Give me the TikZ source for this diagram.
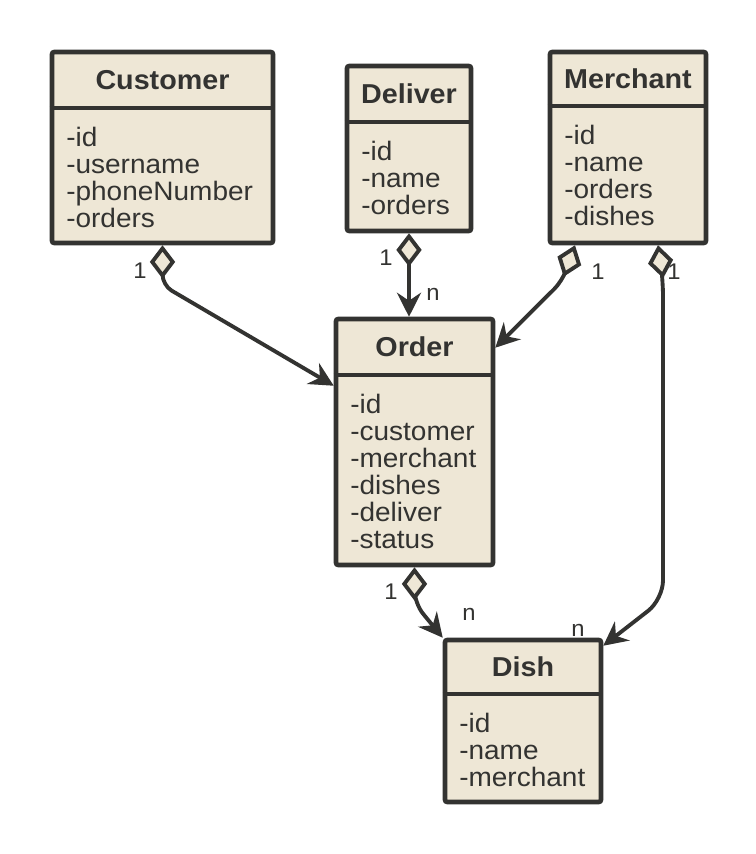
\documentclass[tikz,border=0pt]{standalone}
\usepackage{fontspec}
\setmainfont{Liberation Sans}[FakeStretch=1.05]
\usetikzlibrary{arrows.meta,calc}
\definecolor{ink}{HTML}{333331}
\definecolor{paper}{HTML}{EEE7D6}
\def\pxl{0.75pt}

\begin{document}
\begin{tikzpicture}[x=0.75pt,y=-0.75pt,text=ink,line join=round,
    classbox/.style={draw=ink,fill=paper,line width=3.4pt,rounded corners=1.5pt,inner sep=0pt},
    classname/.style={font=\fontsize{20.5}{22}\selectfont\bfseries},
    attrs/.style={font=\fontsize{20}{20.25}\selectfont,align=left,anchor=north west,inner sep=0pt},
    divider/.style={draw=ink,line width=3.4pt},
    assoc/.style={draw=ink,line width=2.9pt,
      {Diamond[length=25pt,width=19pt,fill=paper]}-{Stealth[length=18pt,width=18pt,inset=6pt]}},
    card/.style={font=\fontsize{17}{18}\selectfont,inner sep=0pt}]
  \fill[white] (0,0) rectangle (756,854);
  \useasboundingbox (0,0) rectangle (756,854);

  % classes
  \node[classbox,minimum width=221*\pxl,minimum height=191*\pxl] (customer) at (162.5,147.5) {};
  \draw[divider] (customer.west |- 0,108) -- (customer.east |- 0,108);
  \node[classname] (customer-name) at (162.5,80) {Customer};
  \node[attrs] (customer-attrs) at (66,127) {-id\\-username\\-phoneNumber\\-orders};

  \node[classbox,minimum width=124*\pxl,minimum height=165*\pxl] (deliver) at (409,148.5) {};
  \draw[divider] (deliver.west |- 0,122) -- (deliver.east |- 0,122);
  \node[classname] (deliver-name) at (409,94) {Deliver};
  \node[attrs] (deliver-attrs) at (361,141) {-id\\-name\\-orders};

  \node[classbox,minimum width=156*\pxl,minimum height=191*\pxl] (merchant) at (628,147.5) {};
  \draw[divider] (merchant.west |- 0,106) -- (merchant.east |- 0,106);
  \node[classname] (merchant-name) at (628,79) {Merchant};
  \node[attrs] (merchant-attrs) at (564,125) {-id\\-name\\-orders\\-dishes};

  \node[classbox,minimum width=157*\pxl,minimum height=246*\pxl] (order) at (414.5,442) {};
  \draw[divider] (order.west |- 0,375) -- (order.east |- 0,375);
  \node[classname] (order-name) at (414.5,347) {Order};
  \node[attrs] (order-attrs) at (350,394) {-id\\-customer\\-merchant\\-dishes\\-deliver\\-status};

  \node[classbox,minimum width=156*\pxl,minimum height=162*\pxl] (dish) at (523,721) {};
  \draw[divider] (dish.west |- 0,694) -- (dish.east |- 0,694);
  \node[classname] (dish-name) at (523,667) {Dish};
  \node[attrs] (dish-attrs) at (459,713) {-id\\-name\\-merchant};

  % aggregations
  \draw[assoc,rounded corners=8pt] (customer.south) -- ++(0,40) -- ($(order.north west)+(0,69)$);
  \draw[assoc] (deliver.south) -- (deliver.south |- order.north);
  \draw[assoc,rounded corners=8pt] ($(merchant.south)+(-53,0)$) -- ++(-13,36) -- ($(order.north east)+(0,31)$);
  \draw[assoc,rounded corners=14pt] ($(merchant.south)+(30,0)$) -- ++(5,32) -- ++(0,322) -- ($(dish.north east)+(0,8)$);
  \draw[assoc,rounded corners=10pt] (order.south) -- ++(0,36) -- (dish.north west);

  % multiplicities
  \node[card] (customer-one) at (140,271) {1};
  \node[card] (deliver-one) at (386,258) {1};
  \node[card] (deliver-n) at (433,294) {n};
  \node[card] (merchant-one) at (598,272) {1};
  \node[card] (merchant-one-b) at (674,272) {1};
  \node[card] (order-one) at (391,592) {1};
  \node[card] (order-n) at (469,614) {n};
  \node[card] (dish-n) at (578,630) {n};
\end{tikzpicture}
\end{document}
